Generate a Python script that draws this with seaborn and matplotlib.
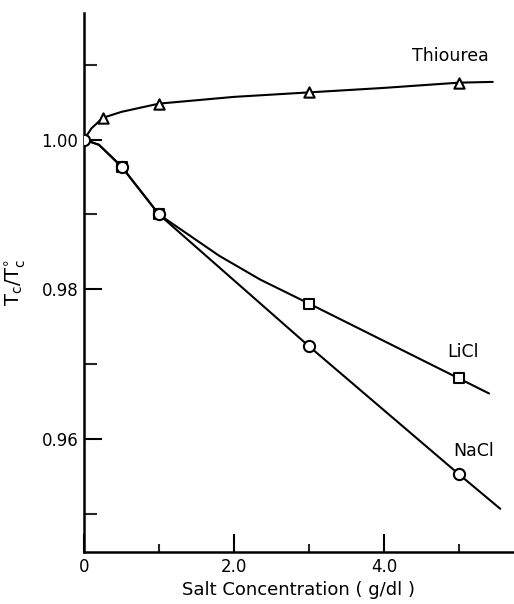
import matplotlib
matplotlib.use("Agg")
import matplotlib.pyplot as plt
import seaborn as sns
import pandas as pd
from matplotlib.ticker import FixedLocator

# measured points (markers)
thio_x = [0.25, 1.0, 3.0, 5.0]
thio_y = [1.0029, 1.0048, 1.0063, 1.0076]
licl_x = [0.5, 1.0, 3.0, 5.0]
licl_y = [0.9964, 0.9900, 0.9781, 0.9681]
nacl_x = [0.0, 0.5, 1.0, 3.0, 5.0]
nacl_y = [1.0000, 0.9964, 0.9900, 0.9724, 0.9553]

# drawn curves
thio_cx = [0.0, 0.1, 0.25, 0.5, 1.0, 2.0, 3.0, 4.0, 5.0, 5.45]
thio_cy = [1.0, 1.0015, 1.0029, 1.0037, 1.0048, 1.0057, 1.0063, 1.0069, 1.0076, 1.0077]
licl_cx = [0.0, 0.2, 0.5, 1.0, 1.8, 2.35, 3.0, 5.0, 5.4]
licl_cy = [1.0, 0.9993, 0.9964, 0.9900, 0.9845, 0.9813, 0.9781, 0.9681, 0.9661]
nacl_cx = [0.0, 0.2, 0.5, 1.0, 3.0, 5.0, 5.55]
nacl_cy = [1.0, 0.9993, 0.9964, 0.9900, 0.9724, 0.9553, 0.9507]

x_ticks = [0, 2, 4]
x_ticklabels = ["0", "2.0", "4.0"]
x_minor = [1, 3, 5]
y_ticks = [0.96, 0.98, 1.00]
y_ticklabels = ["0.96", "0.98", "1.00"]
y_minor = [0.95, 0.97, 0.99, 1.01]

sns.set_style("white")
plt.rcParams["font.family"] = ["DejaVu Sans"]
plt.rcParams["text.color"] = "black"
plt.rcParams["axes.labelcolor"] = "black"

fig = plt.figure(figsize=(5.14, 6.04), dpi=100)
ax = fig.add_axes([84/514, 52/604, 1 - 84/514, (552-13)/604])

curves = pd.concat([
    pd.DataFrame({"x": thio_cx, "y": thio_cy, "s": "Thiourea"}),
    pd.DataFrame({"x": licl_cx, "y": licl_cy, "s": "LiCl"}),
    pd.DataFrame({"x": nacl_cx, "y": nacl_cy, "s": "NaCl"}),
])
for name in ["Thiourea", "LiCl", "NaCl"]:
    d = curves[curves.s == name]
    sns.lineplot(data=d, x="x", y="y", ax=ax, color="black", lw=1.5,
                 sort=False, estimator=None)

sns.scatterplot(x=thio_x, y=thio_y, ax=ax, marker="^", s=55, facecolor="white",
                edgecolor="black", linewidth=1.5, zorder=5)
sns.scatterplot(x=licl_x, y=licl_y, ax=ax, marker="s", s=42, facecolor="white",
                edgecolor="black", linewidth=1.5, zorder=5)
sns.scatterplot(x=nacl_x, y=nacl_y, ax=ax, marker="o", s=65, facecolor="white",
                edgecolor="black", linewidth=1.5, zorder=6)

ax.set_xlim(0, 5.733)
ax.set_ylim(0.94493, 1.0169)

ax.spines["top"].set_visible(False)
ax.spines["right"].set_visible(False)
for sp in ["left", "bottom"]:
    ax.spines[sp].set_linewidth(1.8)
    ax.spines[sp].set_color("black")

ax.set_xticks(x_ticks)
ax.set_xticklabels(x_ticklabels)
ax.xaxis.set_minor_locator(FixedLocator(x_minor))
ax.set_yticks(y_ticks)
ax.set_yticklabels(y_ticklabels)
ax.yaxis.set_minor_locator(FixedLocator(y_minor))

ax.tick_params(axis="both", which="major", direction="in", length=13, width=1.5,
               labelsize=12, colors="black", pad=4, left=True, bottom=True)
ax.tick_params(axis="x", which="minor", direction="in", length=6, width=1.5,
               bottom=True)
ax.tick_params(axis="y", which="minor", direction="in", length=9, width=1.5,
               left=True)

ax.set_xlabel("Salt Concentration ( g/dl )", fontsize=13, labelpad=4)
ax.set_ylabel(r"$\mathrm{T_c/T_c^{\circ}}$", fontsize=14, labelpad=10)

ax.text(4.88, 1.0111, "Thiourea", fontsize=12.5, ha="center", va="center")
ax.text(5.05, 0.9716, "LiCl", fontsize=12.5, ha="center", va="center")
ax.text(5.19, 0.9584, "NaCl", fontsize=12.5, ha="center", va="center")

fig.savefig("out.png", dpi=100)
